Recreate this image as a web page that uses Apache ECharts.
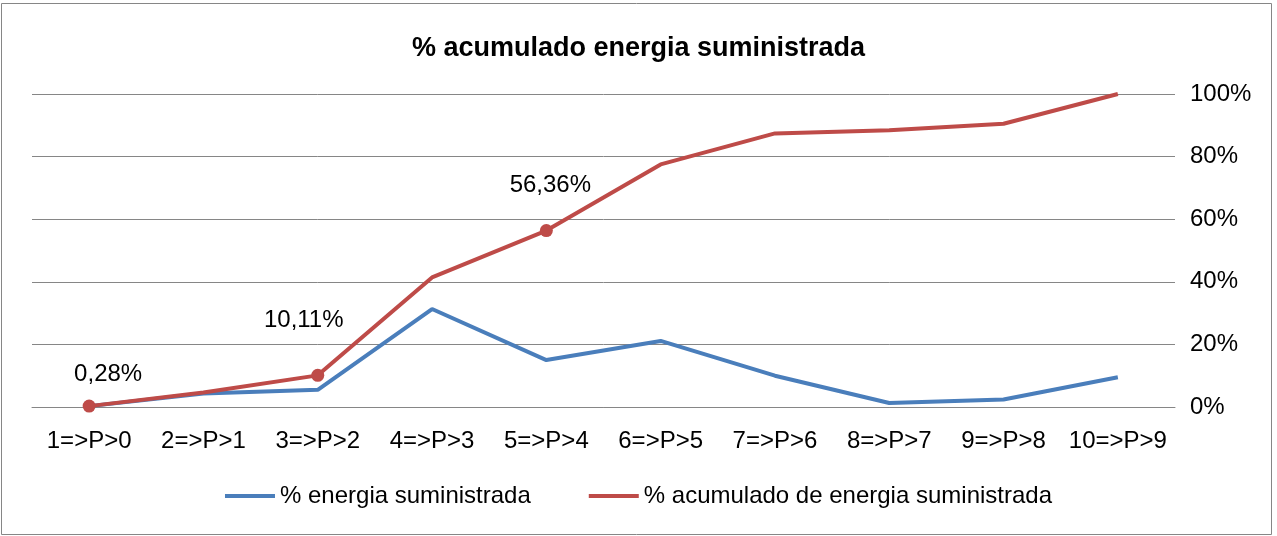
<!DOCTYPE html>
<html>
<head>
<meta charset="utf-8">
<script src="https://cdn.jsdelivr.net/npm/echarts@6/dist/echarts.min.js"></script>
<style>
  html, body { margin: 0; padding: 0; background: #fff; }
  #chart { width: 1277px; height: 536px; }
</style>
</head>
<body>
<div id="chart"></div>
<script>
// datos
var categorias = ['1=>P>0', '2=>P>1', '3=>P>2', '4=>P>3', '5=>P>4', '6=>P>5', '7=>P>6', '8=>P>7', '9=>P>8', '10=>P>9'];
var energia = [0.28, 4.3, 5.5, 31.3, 15.0, 21.1, 10.0, 1.3, 2.4, 9.5];
var acumulado = [0.28, 4.6, 10.11, 41.4, 56.36, 77.5, 87.4, 88.4, 90.5, 100];
var yTicks = [0, 20, 40, 60, 80, 100];
var etiquetados = [0, 2, 4];   // puntos con marcador y etiqueta
var desplaz = { 0: [19, -32], 2: [-14, -55], 4: [4, -45] };

var AZUL = '#4A7EBB', ROJO = '#BE4B48', GRIS = '#868686';
var FUENTE = 'Liberation Sans, Arial, sans-serif';

var chart = echarts.init(document.getElementById('chart'));

var datosAcum = acumulado.map(function (v, i) {
  if (etiquetados.indexOf(i) < 0) return v;
  return {
    value: v,
    symbol: 'circle',
    symbolSize: 13,
    label: {
      show: true,
      position: 'inside',
      offset: desplaz[i],
      formatter: function (p) { return p.value.toFixed(2).replace('.', ',') + '%'; },
      color: '#000',
      fontFamily: FUENTE,
      fontSize: 24
    }
  };
});

chart.setOption({
  animation: false,
  textStyle: { fontFamily: FUENTE },
  graphic: [{
    type: 'rect',
    shape: { x: 1.5, y: 3.5, width: 1270, height: 531 },
    style: { fill: 'none', stroke: GRIS, lineWidth: 1 },
    silent: true
  }],
  title: {
    text: '% acumulado energia suministrada',
    left: 'center',
    top: 30,
    textStyle: { fontFamily: FUENTE, fontSize: 27, fontWeight: 'bold', color: '#000' }
  },
  legend: {
    bottom: 23,
    left: 'center',
    icon: 'rect',
    itemWidth: 50,
    itemHeight: 4,
    itemGap: 58,
    textStyle: { fontFamily: FUENTE, fontSize: 24, color: '#000' },
    data: ['% energia suministrada', '% acumulado de energia suministrada']
  },
  grid: { left: 32, right: 102, top: 94, bottom: 129 },
  xAxis: {
    type: 'category',
    data: categorias,
    boundaryGap: true,
    axisLine: { lineStyle: { color: GRIS, width: 1 } },
    axisTick: { show: false },
    axisLabel: { color: '#000', fontFamily: FUENTE, fontSize: 24, margin: 22, interval: 0 }
  },
  yAxis: {
    type: 'value',
    position: 'right',
    min: yTicks[0],
    max: yTicks[yTicks.length - 1],
    interval: 20,
    axisLine: { show: false },
    axisTick: { show: false },
    splitLine: { lineStyle: { color: GRIS, width: 1 } },
    axisLabel: { color: '#000', fontFamily: FUENTE, fontSize: 24, margin: 15, formatter: '{value}%' }
  },
  series: [{
    name: '% energia suministrada',
    type: 'line',
    data: energia,
    symbol: 'none',
    lineStyle: { color: AZUL, width: 4 },
    itemStyle: { color: AZUL }
  }, {
    name: '% acumulado de energia suministrada',
    type: 'line',
    data: datosAcum,
    symbol: 'none',
    lineStyle: { color: ROJO, width: 4 },
    itemStyle: { color: ROJO },
    z: 3
  }]
});
</script>
</body>
</html>
